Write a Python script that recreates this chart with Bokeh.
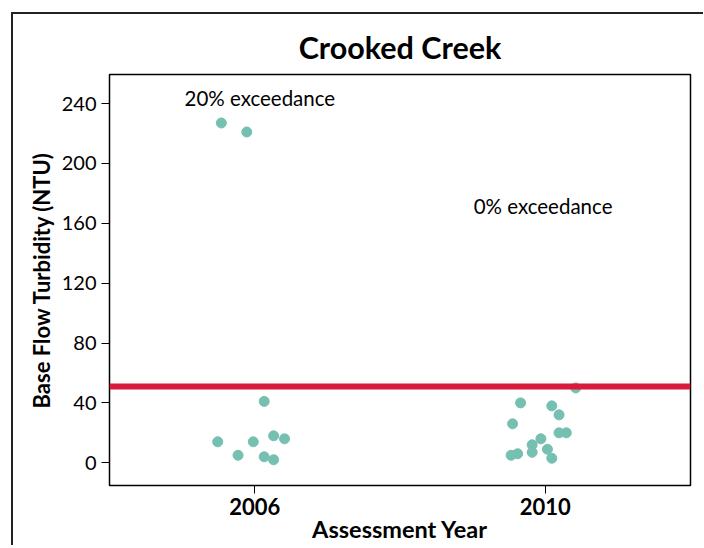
from bokeh.plotting import figure
from bokeh.models import Span, Label, FixedTicker, Range1d, ColumnDataSource
from bokeh.embed import file_html
from bokeh.resources import INLINE

# ---- data ----
years_2006 = [2005.54, 2005.89, 2006.13, 2005.49, 2005.98, 2005.77, 2006.26, 2006.41, 2006.13, 2006.26]
turb_2006 = [227, 221, 41, 14, 14, 5, 18, 16, 4, 2]
years_2010 = [2010.42, 2009.66, 2010.09, 2010.19, 2009.55, 2010.19, 2010.29, 2009.94, 2009.82, 2010.03, 2009.82, 2009.53, 2009.62, 2010.09]
turb_2010 = [50, 40, 38, 32, 26, 20, 20, 16, 12, 9, 7, 5, 6, 3]
threshold = 51
x_ticks = [2006, 2010]
y_ticks = [0, 40, 80, 120, 160, 200, 240]
note_texts = ["20% exceedance", "0% exceedance"]
note_x = [2006.07, 2009.97]
note_y = [243.4, 171.3]

FONT = "Lato"
TEAL = "#76c0b1"
RED = "#d81b3c"

p = figure(output_backend="svg", toolbar_location=None,
           frame_width=581, frame_height=411,
           x_range=Range1d(2004.0, 2012.0), y_range=Range1d(-15.2, 259.4),
           min_border_left=96, min_border_top=60, min_border_right=13, min_border_bottom=7,
           title="Crooked Creek")
p.margin = (12, 0, 0, 11)
p.styles = {"border-top": "2px solid #222", "border-left": "2px solid #222"}

p.title.align = "center"
p.title.text_font = FONT
p.title.text_font_size = "30.5px"
p.title.text_font_style = "bold"
p.title.text_color = "black"
p.title.standoff = 19

p.xgrid.visible = False
p.ygrid.visible = False
p.outline_line_color = "black"
p.outline_line_width = 1.5
p.outline_line_alpha = 1

src = ColumnDataSource(dict(x=years_2006 + years_2010, y=turb_2006 + turb_2010))

p.add_layout(Span(location=threshold, dimension="width", line_color=RED, line_width=6))
p.scatter("x", "y", source=src, size=10, fill_color=TEAL, line_color=TEAL)

for t, x, y in zip(note_texts, note_x, note_y):
    p.add_layout(Label(x=x, y=y, text=t, text_align="center", text_baseline="middle",
                       text_font=FONT, text_font_size="20.5px", text_color="black"))

p.xaxis.ticker = FixedTicker(ticks=x_ticks)
p.yaxis.ticker = FixedTicker(ticks=y_ticks)
for ax in (p.xaxis[0], p.yaxis[0]):
    ax.axis_line_color = "black"
    ax.major_tick_line_color = "black"
    ax.major_tick_out = 8
    ax.major_tick_in = 0
    ax.minor_tick_line_color = None
    ax.major_label_text_font = FONT
    ax.major_label_text_color = "black"
    ax.axis_label_text_font = FONT
    ax.axis_label_text_font_style = "bold"
    ax.axis_label_text_color = "black"
p.xaxis.major_label_text_font_style = "bold"
p.xaxis.major_label_text_font_size = "22px"
p.xaxis.axis_label = "Assessment Year"
p.xaxis.axis_label_text_font_size = "23.5px"
p.xaxis.axis_label_standoff = -3
p.xaxis.major_label_standoff = 4
p.yaxis.axis_label = "Base Flow Turbidity (NTU)"
p.yaxis.axis_label_text_font_size = "22px"
p.yaxis.major_label_text_font_size = "20px"
p.yaxis.major_label_standoff = 5
p.yaxis.axis_label_standoff = 4

open("out.html", "w").write(file_html(p, INLINE))
